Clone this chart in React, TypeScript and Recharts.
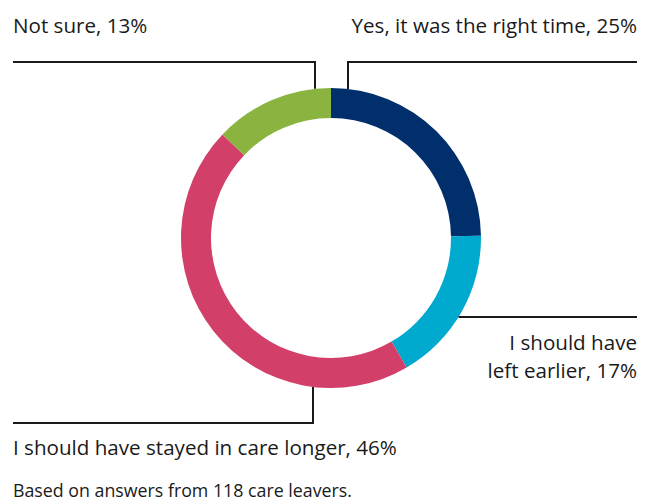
import { PieChart, Pie, Cell } from "recharts";

const answers = [
  "Yes, it was the right time",
  "I should have left earlier",
  "I should have stayed in care longer",
  "Not sure",
];
const shares = [25, 17, 46, 13];
const colours = ["#002f6c", "#00a9ce", "#d2406a", "#8ab33f"];

const data = answers.map((name, i) => ({ name, value: shares[i] }));

const FONT = "'Open Sans', sans-serif";
const INK = "#1a1a1a";

// where each callout goes, relative to the ring
const callouts: Record<string, any> = {
  "Yes, it was the right time": { side: "top", dx: 17, lineY: 62, endX: 637, textY: 25, anchor: "end", lines: ["Yes, it was the right time, 25%"] },
  "Not sure": { side: "top", dx: -16, lineY: 62, endX: 13, textY: 25, anchor: "start", lines: ["Not sure, 13%"] },
  "I should have left earlier": { side: "right", dy: 79, endX: 637, textY: 342, anchor: "end", lines: ["I should have", "left earlier, 17%"] },
  "I should have stayed in care longer": { side: "bottom", dx: -18, lineY: 423, endX: 13, textY: 447, anchor: "start", lines: ["I should have stayed in care longer, 46%"] },
};

function Callout(props: any) {
  const { cx, cy, outerRadius, name } = props;
  const c = callouts[name];
  if (!c) return null;
  let path = "";
  if (c.side === "top" || c.side === "bottom") {
    const x = cx + c.dx;
    const edge = Math.sqrt(outerRadius * outerRadius - c.dx * c.dx);
    const y0 = c.side === "top" ? cy - edge : cy + edge;
    path = `M${x},${y0} L${x},${c.lineY} L${c.endX},${c.lineY}`;
  } else {
    const y = cy + c.dy;
    const x0 = cx + Math.sqrt(outerRadius * outerRadius - c.dy * c.dy);
    path = `M${x0},${y} L${c.endX},${y}`;
  }
  return (
    <g>
      <path d={path} fill="none" stroke={INK} strokeWidth={2} />
      {c.lines.map((t: string, i: number) => (
        <text
          key={i}
          x={c.endX}
          y={c.textY + i * 28}
          textAnchor={c.anchor}
          dominantBaseline="central"
          fontFamily={FONT}
          fontSize={20.6}
          fill={INK}
        >
          {t}
        </text>
      ))}
    </g>
  );
}

export default function App() {
  return (
    <div style={{ position: "absolute", left: 0, top: 0, width: 649, height: 502, background: "#fff" }}>
      <PieChart width={649} height={502} margin={{ top: 0, right: 0, bottom: 0, left: 0 }}>
        <Pie
          data={data}
          dataKey="value"
          nameKey="name"
          cx={331}
          cy={238}
          innerRadius={120}
          outerRadius={150}
          startAngle={90}
          endAngle={-270}
          stroke="none"
          label={Callout}
          labelLine={false}
          isAnimationActive={false}
        >
          {data.map((d, i) => (
            <Cell key={d.name} fill={colours[i]} />
          ))}
        </Pie>
      </PieChart>
      <div
        style={{
          position: "absolute",
          left: 13,
          top: 480,
          fontFamily: FONT,
          fontSize: 17.8,
          color: INK,
          lineHeight: "20px",
          whiteSpace: "nowrap",
        }}
      >
        Based on answers from 118 care leavers.
      </div>
    </div>
  );
}
